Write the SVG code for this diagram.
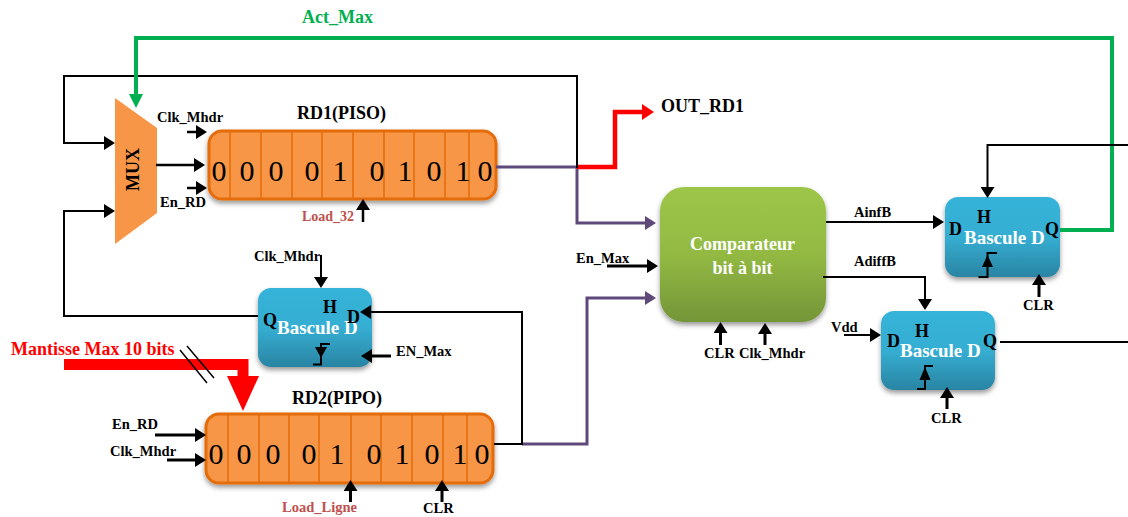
<svg xmlns="http://www.w3.org/2000/svg" width="1128" height="517" viewBox="0 0 1128 517">
<style>
text{font-family:"Liberation Serif","Times New Roman",serif;font-weight:700;font-size:14.5px;fill:#000}
.w{fill:none;stroke:#000;stroke-width:2}
.t{fill:none;stroke:#000;stroke-width:3}
.p{fill:none;stroke:#5f497a;stroke-width:3}
.reg{fill:#f79646;stroke:#e46c0a;stroke-width:3;filter:url(#sh)}
.div{stroke:#e46c0a;stroke-width:1.5}
.dig{font-size:30px;font-weight:400;text-anchor:middle}
.ti{font-size:18px}
.wt{fill:#fff;font-size:19px}
.pin{font-size:18px}
.bd{fill:url(#blue);filter:url(#sh)}
.lr{fill:#c0504d}
</style>
<defs>
<linearGradient id="blue" x1="0" y1="0" x2="0" y2="1"><stop offset="0" stop-color="#36b3d8"/><stop offset=".5" stop-color="#35aed2"/><stop offset="1" stop-color="#2a84a3"/></linearGradient>
<linearGradient id="green" x1="0" y1="0" x2="0" y2="1"><stop offset="0" stop-color="#9dc648"/><stop offset=".5" stop-color="#93b943"/><stop offset="1" stop-color="#749537"/></linearGradient>
<filter id="sh" x="-10%" y="-10%" width="120%" height="125%"><feDropShadow dx="0" dy="3" stdDeviation="2.5" flood-color="#000" flood-opacity=".4"/></filter>
<marker id="ab" markerUnits="userSpaceOnUse" markerWidth="12" markerHeight="14" refX="2" refY="7" orient="auto"><path d="M0,0L11,7L0,14z" fill="#000"/></marker>
<marker id="ap" markerUnits="userSpaceOnUse" markerWidth="12" markerHeight="14" refX="2" refY="7" orient="auto"><path d="M0,0L11,7L0,14z" fill="#5f497a"/></marker>
<marker id="ag" markerUnits="userSpaceOnUse" markerWidth="15" markerHeight="14" refX="1" refY="7" orient="auto"><path d="M0,0L14,7L0,14z" fill="#00b050"/></marker>
<marker id="ar" markerUnits="userSpaceOnUse" markerWidth="13" markerHeight="16" refX="1" refY="8" orient="auto"><path d="M0,0L12,8L0,16z" fill="#f00"/></marker>
</defs>
<g id="mux">
<path d="M115,98L157,128V213L115,244z" fill="#f79646"/>
<text transform="translate(139,191) rotate(-90)" class="ti">MUX</text>
</g>
<g id="rd1">
<rect class="reg" x="209" y="131" width="287" height="68" rx="13"/>
<path class="div" d="M230,132V198M261,132V198M292,132V198M322,132V198M353,132V198M384,132V198M414,132V198M445,132V198M469,132V198"/>
<text class="dig" x="219" y="181">0</text><text class="dig" x="247" y="181">0</text><text class="dig" x="276" y="181">0</text><text class="dig" x="312" y="181">0</text><text class="dig" x="340" y="181">1</text><text class="dig" x="377" y="181">0</text><text class="dig" x="405" y="181">1</text><text class="dig" x="434" y="181">0</text><text class="dig" x="463" y="181">1</text><text class="dig" x="485" y="181">0</text>
</g>
<g id="rd2">
<rect class="reg" x="206" y="414" width="287" height="69" rx="13"/>
<path class="div" d="M228,415V482M259,415V482M289,415V482M319,415V482M351,415V482M381,415V482M412,415V482M443,415V482M467,415V482"/>
<text class="dig" x="216" y="464">0</text><text class="dig" x="244" y="464">0</text><text class="dig" x="273" y="464">0</text><text class="dig" x="309" y="464">0</text><text class="dig" x="337" y="464">1</text><text class="dig" x="374" y="464">0</text><text class="dig" x="402" y="464">1</text><text class="dig" x="432" y="464">0</text><text class="dig" x="460" y="464">1</text><text class="dig" x="482" y="464">0</text>
</g>
<g id="bascule-left">
<rect class="bd" x="258" y="288" width="114" height="79" rx="13"/>
<text class="wt" x="277" y="334">Bascule D</text>
<text class="pin" x="263" y="326">Q</text><text class="pin" x="323" y="313">H</text><text class="pin" x="347" y="323">D</text>
<path class="w" d="M313,364.500H321V344H330"/><path d="M315,347H327L321,358z" fill="#000"/>
</g>
<g id="comparateur">
<rect x="660" y="187" width="166" height="135" rx="24" fill="url(#green)" filter="url(#sh)"/>
<text class="ti" x="742.500" y="250" text-anchor="middle" style="fill:#fff">Comparateur</text>
<text class="ti" x="742.500" y="274" text-anchor="middle" style="fill:#fff">bit à bit</text>
</g>
<g id="bascule-right">
<rect class="bd" x="945" y="197" width="115" height="80" rx="13"/>
<text class="wt" x="964" y="244">Bascule D</text>
<text class="pin" x="949" y="235">D</text><text class="pin" x="977" y="223">H</text><text class="pin" x="1045" y="235">Q</text>
<path class="w" d="M978.500,277H987.500V253H997"/><path d="M982,267H993L987.500,255z" fill="#000"/>
</g>
<g id="bascule-bottom">
<rect class="bd" x="881" y="311" width="114" height="79" rx="13"/>
<text class="wt" x="900" y="357">Bascule D</text>
<text class="pin" x="887" y="347">D</text><text class="pin" x="915" y="337">H</text><text class="pin" x="983" y="347">Q</text>
<path class="w" d="M917,389H925V366H933"/><path d="M919.500,380H930.500L925,367z" fill="#000"/>
</g>
<g id="connectors">
<path class="w" d="M577,168V76H64V143H106" marker-end="url(#ab)"/>
<path class="w" d="M258,316H64V211H106" marker-end="url(#ab)"/>
<path class="w" d="M156,165H196" marker-end="url(#ab)" style="stroke-width:2.5"/>
<path class="w" d="M187,132H198" marker-end="url(#ab)" style="stroke-width:2.5"/>
<path class="w" d="M187,188H198" marker-end="url(#ab)" style="stroke-width:2.5"/>
<path class="w" d="M363,222V208" marker-end="url(#ab)" style="stroke-width:2.5"/>
<path class="p" d="M496,167H577V223H647" marker-end="url(#ap)"/>
<path d="M577,167H615V112H643" fill="none" stroke="#f00" stroke-width="4.500" marker-end="url(#ar)"/>
<path class="w" d="M577,76V168"/>
<path class="p" d="M522,444H587V298H647" marker-end="url(#ap)"/>
<path class="w" d="M494,444H522V312H369" marker-end="url(#ab)"/>
<path class="t" d="M391,356H370" marker-end="url(#ab)"/>
<path class="w" d="M321,255V279" marker-end="url(#ab)"/>
<path d="M1060,230H1112V38H136V95" fill="none" stroke="#00b050" stroke-width="4" marker-end="url(#ag)"/>
<path class="w" d="M1128,145H987.500V189" marker-end="url(#ab)"/>
<path class="w" d="M826,222H935" marker-end="url(#ab)"/>
<path class="w" d="M823,277H925V301" marker-end="url(#ab)"/>
<path class="w" d="M1000,342H1128"/>
<path class="w" d="M844,335H872" marker-end="url(#ab)"/>
<path class="t" d="M607,266H649" marker-end="url(#ab)"/>
<path class="t" d="M720.500,345V331" marker-end="url(#ab)"/>
<path class="t" d="M765,345V332" marker-end="url(#ab)"/>
<path class="t" d="M1039,297V283" marker-end="url(#ab)"/>
<path class="t" d="M947,409V396" marker-end="url(#ab)"/>
<path class="t" d="M155,435H197" marker-end="url(#ab)"/>
<path class="t" d="M167,460H197" marker-end="url(#ab)"/>
<path class="t" d="M350.500,502V489" marker-end="url(#ab)"/>
<path class="t" d="M442,502V489" marker-end="url(#ab)"/>
<path d="M64,364.500H243V377" fill="none" stroke="#f00" stroke-width="11"/>
<path d="M227,376H259L243,411z" fill="#f00"/>
<path class="w" d="M180,350L207,383M187,346L214,378" style="stroke-width:1.500"/>
</g>
<g id="labels">
<text x="302" y="23" class="ti" style="fill:#00b050">Act_Max</text>
<text x="661" y="112" class="ti">OUT_RD1</text>
<text x="297" y="119" class="ti">RD1(PISO)</text>
<text x="292" y="404" class="ti">RD2(PIPO)</text>
<text x="11" y="355" style="font-size:18px;fill:#f00">Mantisse Max 10 bits</text>
<text x="157" y="122">Clk_Mhdr</text>
<text x="160" y="207">En_RD</text>
<text x="302" y="221" class="lr" style="font-size:14px">Load_32</text>
<text x="254" y="261">Clk_Mhdr</text>
<text x="396" y="356">EN_Max</text>
<text x="112" y="429">En_RD</text>
<text x="110" y="456">Clk_Mhdr</text>
<text x="282" y="512" class="lr">Load_Ligne</text>
<text x="423" y="513">CLR</text>
<text x="576" y="263">En_Max</text>
<text x="854" y="217">AinfB</text>
<text x="854" y="266">AdiffB</text>
<text x="831" y="332">Vdd</text>
<text x="704" y="358">CLR</text>
<text x="739" y="358">Clk_Mhdr</text>
<text x="1023" y="310">CLR</text>
<text x="931" y="423">CLR</text>
</g>
</svg>
